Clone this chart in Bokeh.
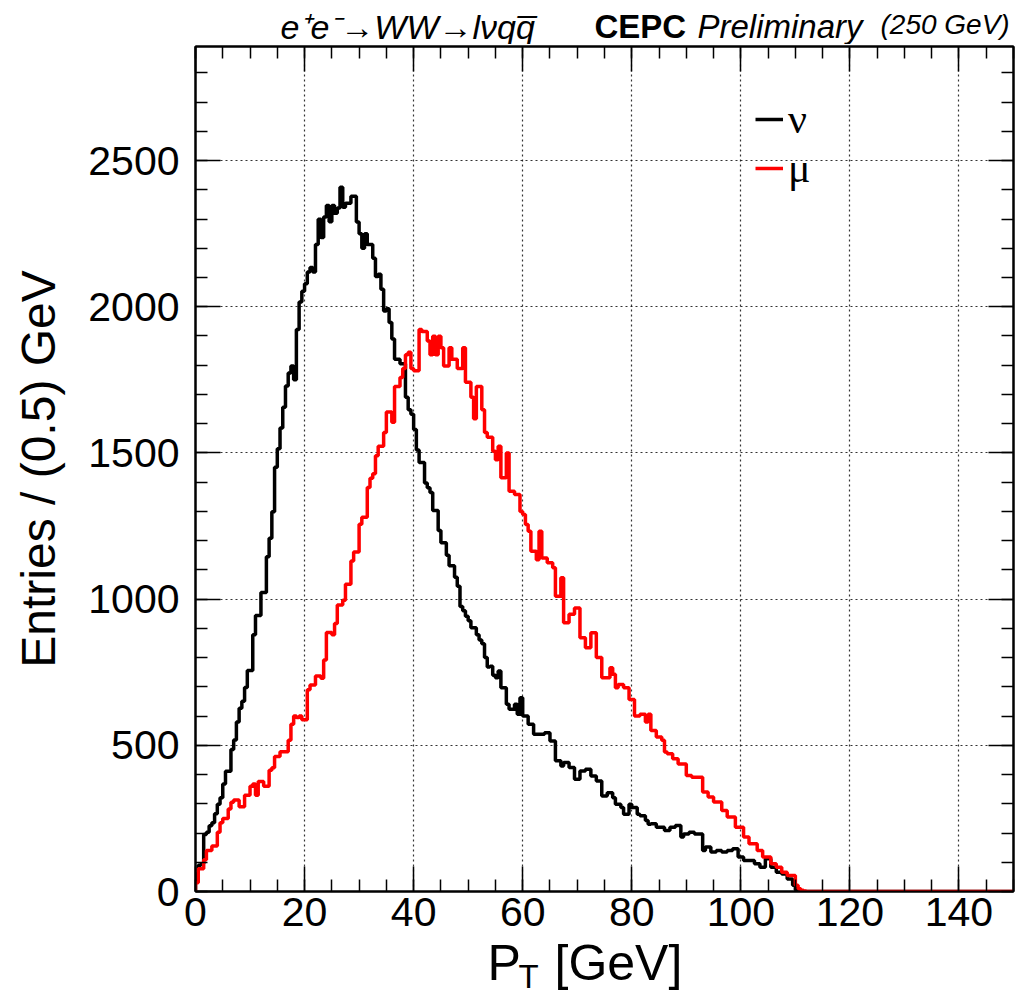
import numpy as np
from bokeh.plotting import figure
from bokeh.layouts import column
from bokeh.models import Range1d, LinearAxis, FixedTicker, Legend, LegendItem
from bokeh.core.properties import value
from bokeh.embed import file_html
from bokeh.resources import INLINE

# ---- data: 0.5 GeV bins starting at 0 GeV ----
bin_width = 0.5
n_bins = 300
nu_counts = [
    60, 90, 95, 195, 203, 225, 235, 266, 298, 321,
    368, 411, 411, 486, 518, 580, 627, 651, 698, 756,
    756, 878, 944, 944, 1023, 1023, 1145, 1208, 1299, 1451,
    1514, 1585, 1656, 1729, 1773, 1797, 1750, 1922, 2016, 2053,
    2079, 2119, 2134, 2119, 2213, 2299, 2237, 2307, 2346, 2291,
    2346, 2320, 2338, 2409, 2340, 2354, 2354, 2378, 2378, 2290,
    2250, 2200, 2250, 2213, 2213, 2166, 2103, 2111, 2060, 1985,
    1993, 1946, 1890, 1820, 1820, 1805, 1805, 1690, 1648, 1632,
    1580, 1510, 1467, 1467, 1397, 1381, 1365, 1303, 1303, 1235,
    1193, 1193, 1150, 1114, 1114, 1075, 1044, 975, 960, 941,
    926, 902, 902, 878, 860, 847, 800, 768, 770, 740,
    731, 754, 697, 697, 640, 623, 623, 640, 606, 663,
    600, 600, 572, 572, 538, 538, 538, 538, 543, 543,
    515, 515, 447, 447, 429, 441, 441, 424, 424, 384,
    384, 412, 412, 418, 418, 395, 395, 378, 378, 327,
    327, 338, 338, 321, 298, 298, 287, 264, 264, 298,
    287, 287, 264, 259, 259, 243, 230, 232, 232, 220,
    220, 220, 209, 209, 220, 220, 226, 226, 186, 197,
    197, 203, 203, 197, 197, 197, 140, 152, 152, 135,
    135, 140, 140, 135, 135, 140, 140, 146, 146, 118,
    118, 106, 106, 106, 106, 95, 95, 83, 83, 112,
    112, 83, 83, 66, 66, 60, 60, 43, 43, 21,
    5, 2, 1,
]
mu_counts = [
    30, 78, 78, 109, 140, 140, 156, 156, 203, 235,
    250, 250, 282, 305, 313, 313, 290, 290, 329, 329,
    360, 368, 329, 376, 376, 360, 360, 415, 423, 462,
    462, 478, 478, 478, 517, 572, 600, 595, 600, 587,
    587, 690, 706, 706, 737, 737, 729, 792, 886, 886,
    878, 917, 980, 980, 996, 1051, 1051, 1130, 1161, 1161,
    1256, 1280, 1280, 1382, 1413, 1429, 1490, 1523, 1523, 1570,
    1640, 1640, 1605, 1727, 1727, 1758, 1789, 1836, 1844, 1789,
    1781, 1781, 1922, 1915, 1915, 1883, 1836, 1899, 1836, 1899,
    1860, 1797, 1797, 1860, 1820, 1820, 1789, 1789, 1860, 1742,
    1742, 1690, 1617, 1727, 1727, 1648, 1570, 1554, 1554, 1506,
    1477, 1523, 1415, 1415, 1500, 1369, 1369, 1358, 1358, 1300,
    1289, 1255, 1232, 1164, 1164, 1135, 1232, 1141, 1141, 1124,
    1124, 1107, 1010, 1010, 1073, 919, 919, 948, 948, 970,
    970, 868, 868, 834, 834, 885, 885, 800, 800, 731,
    731, 731, 765, 743, 697, 708, 708, 697, 697, 657,
    657, 600, 600, 606, 606, 580, 606, 551, 551, 528,
    528, 517, 477, 471, 471, 454, 454, 436, 436, 436,
    397, 397, 391, 391, 391, 391, 340, 340, 323, 323,
    306, 306, 306, 277, 277, 255, 255, 255, 220, 220,
    220, 186, 186, 163, 163, 163, 140, 140, 118, 118,
    118, 95, 95, 83, 83, 66, 66, 55, 55, 55,
    21, 9, 4, 2,
]
x_ticks = [0, 20, 40, 60, 80, 100, 120, 140]
y_ticks = [0, 500, 1000, 1500, 2000, 2500]
x_label_parts = ["P", "T", "[GeV]"]
y_label = "Entries / (0.5) GeV"
legend_labels = ["ν", "μ"]
title_parts = ["e\u207ae\u207b\u2192WW\u2192l\u03bdqq\u0305", "CEPC", "Preliminary", "(250 GeV)"]

# ---- build step outlines ----
def outline(counts):
    full = list(counts) + [0] * (n_bins - len(counts))
    edges = list(np.arange(n_bins + 1) * bin_width)
    xs = [0.0] + edges
    ys = [0] + full + [full[-1]]
    return xs, ys

FONT = "Liberation Sans"
TOP_H, MAIN_H = 44, 899
OVERLAP = 12
BOT_H = 998 - TOP_H - MAIN_H + OVERLAP
LEFT_B, RIGHT_B = 195, 7

def no_align(f):
    if "frame_align" in f.properties():
        f.frame_align = False

# ---- main histogram figure ----
p = figure(width=1020, height=MAIN_H, output_backend="svg", toolbar_location=None,
           x_range=Range1d(0, 150), y_range=Range1d(0, 2890),
           min_border_left=LEFT_B, min_border_right=RIGHT_B, min_border_top=2, min_border_bottom=52)
no_align(p)
p.background_fill_color = "white"
p.border_fill_color = "white"
p.outline_line_color = "black"
p.outline_line_width = 2

def style_axis(ax, ticker, labels=True):
    ax.ticker = ticker
    ax.major_tick_in = 25
    ax.major_tick_out = 0
    ax.minor_tick_in = 12
    ax.minor_tick_out = 0
    ax.major_tick_line_width = 1.5
    ax.minor_tick_line_width = 1.5
    ax.major_tick_line_color = "black"
    ax.minor_tick_line_color = "black"
    ax.axis_line_width = 2
    ax.axis_line_color = "black"
    if labels:
        ax.major_label_text_font = FONT
        ax.major_label_text_font_size = "41px"
        ax.major_label_text_color = "black"
    else:
        ax.major_label_overrides = {t: "" for t in ticker.ticks}
        ax.major_label_standoff = 0

def xticker():
    return FixedTicker(ticks=x_ticks, minor_ticks=list(range(0, 151, 5)))

def yticker():
    return FixedTicker(ticks=y_ticks, minor_ticks=list(range(0, 2891, 100)))

xa = p.xaxis[0]
ya = p.yaxis[0]
style_axis(xa, xticker())
style_axis(ya, yticker())
xa.major_label_standoff = 6
ya.major_label_standoff = 16
ya.axis_label = y_label
ya.axis_label_text_font = FONT
ya.axis_label_text_font_size = "48px"
ya.axis_label_text_font_style = "normal"
ya.axis_label_text_color = "black"
ya.axis_label_standoff = 20

top = LinearAxis()
right = LinearAxis()
style_axis(top, xticker(), labels=False)
style_axis(right, yticker(), labels=False)
p.add_layout(top, "above")
p.add_layout(right, "right")

for g in (p.xgrid[0], p.ygrid[0]):
    g.grid_line_color = "black"
    g.grid_line_alpha = 0.8
    g.grid_line_width = 1.2
    g.grid_line_dash = "2 3"

nx, ny = outline(nu_counts)
mx, my = outline(mu_counts)
r_nu = p.step(nx, ny, mode="after", line_color="black", line_width=3.5)
r_mu = p.step(mx, my, mode="after", line_color="red", line_width=3.5)

legend = Legend(items=[LegendItem(label=legend_labels[0], renderers=[r_nu]),
                       LegendItem(label=legend_labels[1], renderers=[r_mu])],
                location=(560, 699), orientation="vertical",
                background_fill_alpha=0, border_line_alpha=0,
                label_text_font="Liberation Serif", label_text_font_size="42px",
                label_text_color="black",
                glyph_width=28, glyph_height=46, label_height=46, spacing=1,
                label_standoff=5, padding=0, margin=0)
p.add_layout(legend)

# ---- text strips above and below (page-pixel coordinates) ----
def text_strip(h):
    f = figure(width=1020, height=h, output_backend="svg", toolbar_location=None,
               x_axis_type=None, y_axis_type=None,
               x_range=Range1d(LEFT_B, 1020 - RIGHT_B), y_range=Range1d(h, 0),
               min_border_left=LEFT_B, min_border_right=RIGHT_B,
               min_border_top=0, min_border_bottom=0)
    no_align(f)
    f.grid.visible = False
    f.outline_line_color = None
    f.background_fill_alpha = 0
    f.border_fill_alpha = 0
    return f

def put(f, x, y, txt, size, style="normal"):
    f.text(x=[x], y=[y], text=[txt], text_font=value(FONT), text_font_size=size,
           text_font_style=style, text_color="black", text_baseline="middle",
           text_align="left")

# y values below are the vertical middles of the text boxes
tf = text_strip(TOP_H)
put(tf, 280, 26, title_parts[0], "34px", "italic")
put(tf, 594, 26, title_parts[1], "33px", "bold")
put(tf, 697, 26, title_parts[2], "33px", "italic")
put(tf, 880, 24, title_parts[3], "28px", "italic")

bf = text_strip(BOT_H)
bf.margin = (-OVERLAP, 0, 0, 0)
put(bf, 487, 19 + OVERLAP, x_label_parts[0], "50px")
put(bf, 518, 33 + OVERLAP, x_label_parts[1], "33px")
put(bf, 554, 19 + OVERLAP, x_label_parts[2], "50px")

layout = column(tf, p, bf, spacing=0)
open("out.html", "w").write(file_html(layout, INLINE))
